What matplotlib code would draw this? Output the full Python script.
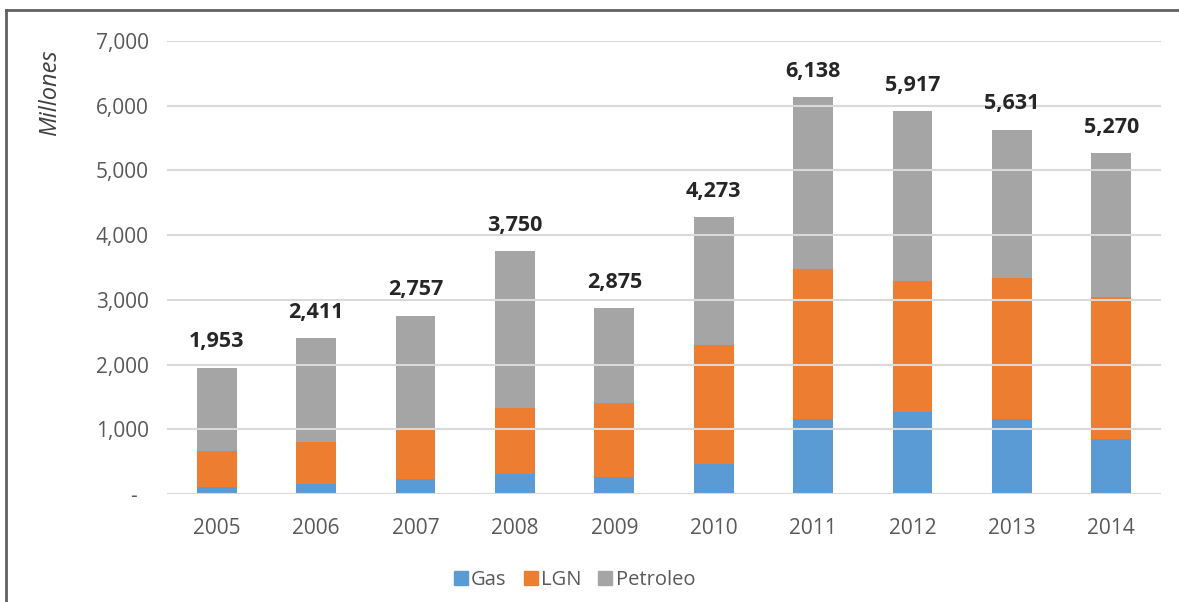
import numpy as np
import matplotlib.pyplot as plt
from matplotlib.lines import Line2D

plt.rcParams['font.family'] = ['Open Sans', 'DejaVu Sans']

# datos (millones)
anios = ['2005', '2006', '2007', '2008', '2009', '2010', '2011', '2012', '2013', '2014']
gas = [113, 154, 227, 304, 267, 467, 1157, 1270, 1157, 849]
lgn = [555, 653, 761, 1018, 1142, 1843, 2326, 2022, 2181, 2196]
petroleo = [1285, 1604, 1769, 2428, 1466, 1963, 2655, 2625, 2293, 2225]
totales = [1953, 2411, 2757, 3750, 2875, 4273, 6138, 5917, 5631, 5270]
y_ticks = [0, 1000, 2000, 3000, 4000, 5000, 6000, 7000]

c_gas = '#5B9BD5'
c_lgn = '#ED7D31'
c_pet = '#A5A5A5'
gris = '#595959'

fig = plt.figure(figsize=(11.79, 6.02), dpi=100)
ax = fig.add_axes([167 / 1179, 108 / 602, 994 / 1179, 453 / 602])

x = np.arange(len(anios))
w = 0.4
ax.bar(x, gas, w, color=c_gas, label='Gas', zorder=1)
ax.bar(x, lgn, w, bottom=gas, color=c_lgn, label='LGN', zorder=1)
base = np.array(gas) + np.array(lgn)
ax.bar(x, petroleo, w, bottom=base, color=c_pet, label='Petroleo', zorder=1)

# etiquetas de totales
for xi, t in zip(x, totales):
    ax.annotate(f'{t:,}', (xi, t), xytext=(0, 11), textcoords='offset points',
                ha='center', va='bottom', fontsize=15.5, fontweight='bold', color='#262626',
                zorder=5)

# rejilla por encima de las barras (como en el original)
for yt in y_ticks:
    ax.axhline(yt, color='#D9D9D9', linewidth=1.5, zorder=3)

ax.set_xlim(-0.5, len(anios) - 0.5)
ax.set_ylim(0, 7000)
ax.set_xticks(x)
ax.set_xticklabels(anios, fontsize=15, color=gris)
ax.set_yticks(y_ticks)
ax.set_yticklabels(['-  '] + [f'{v:,}' for v in y_ticks[1:]], fontsize=15, color=gris)
ax.tick_params(axis='both', length=0)
ax.tick_params(axis='y', pad=13)
ax.tick_params(axis='x', pad=17)
for s in ax.spines.values():
    s.set_visible(False)

fig.text(50 / 1179, 1 - 93 / 602, 'Millones', rotation=90, style='italic',
         fontsize=17, color='#404040', ha='center', va='center')

handles = [Line2D([], [], marker='s', linestyle='', markersize=10, color=c)
           for c in (c_gas, c_lgn, c_pet)]
fig.legend(handles, ['Gas', 'LGN', 'Petroleo'], loc='center', bbox_to_anchor=(574 / 1179, 1 - 580 / 602),
           ncol=3, frameon=False, fontsize=14.5, labelcolor=gris, handletextpad=0.1,
           columnspacing=0.8, handlelength=0.8)

# marco del recuadro
fig.add_artist(Line2D([6 / 1179, 1], [1 - 10 / 602, 1 - 10 / 602], color='#606060', linewidth=2))
fig.add_artist(Line2D([6 / 1179, 6 / 1179], [0, 1 - 10 / 602], color='#606060', linewidth=2))

fig.savefig('out.png', dpi=100)
